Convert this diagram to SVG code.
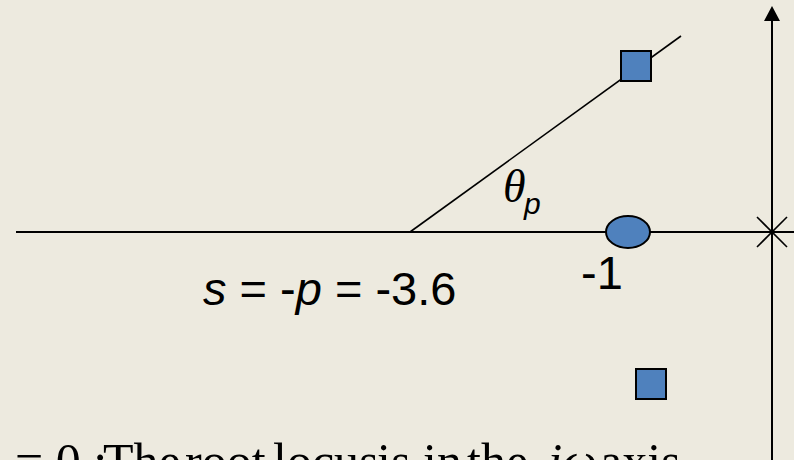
<svg xmlns="http://www.w3.org/2000/svg" width="794" height="460" viewBox="0 0 794 460">
<defs>
<style>
.ln{stroke:#000;stroke-width:2;fill:none}
.mk{fill:#4F81BD;stroke:#000;stroke-width:2}
.sans{font-family:"Liberation Sans",Arial,sans-serif;fill:#000}
.serif{font-family:"Liberation Serif","Times New Roman",serif;fill:#000}
</style>
</defs>
<rect width="794" height="460" fill="#EDEADF"/>
<g id="connectors">
<line class="ln" x1="16" y1="232" x2="794" y2="232"/>
<line class="ln" x1="772" y1="460" x2="772" y2="12"/>
<path d="M772 6 L780 21 L764 21 Z" fill="#000"/>
<line class="ln" x1="410" y1="232" x2="681" y2="36" style="stroke-width:1.6"/>
</g>
<g id="pole-origin">
<line class="ln" x1="757" y1="217" x2="787" y2="247" style="stroke-width:1.6"/>
<line class="ln" x1="787" y1="217" x2="757" y2="247" style="stroke-width:1.6"/>
</g>
<g id="zero-minus1">
<ellipse class="mk" cx="628" cy="232" rx="22" ry="16"/>
<text class="sans" x="581" y="289" font-size="47">-1</text>
</g>
<g id="pole-upper">
<rect class="mk" x="621" y="51" width="30" height="30"/>
</g>
<g id="pole-lower">
<rect class="mk" x="636" y="369" width="30" height="30"/>
</g>
<g id="theta-label">
<text class="serif" x="503" y="202" font-size="46" font-style="italic">θ</text>
<text class="sans" x="524" y="214" font-size="30" font-style="italic">p</text>
</g>
<g id="s-label">
<text class="sans" x="203" y="305" font-size="47"><tspan font-style="italic">s</tspan> = -<tspan font-style="italic">p</tspan> = -3.6</text>
</g>
<g id="bottom-text">
<text class="serif" y="478" font-size="50"><tspan x="15">= 0 :</tspan><tspan x="103">The</tspan><tspan x="185">root</tspan><tspan x="273">locus</tspan><tspan x="377">is</tspan><tspan x="423">in</tspan><tspan x="467">the</tspan><tspan x="548" font-style="italic">jω</tspan><tspan x="600">axis</tspan></text>
</g>
</svg>
